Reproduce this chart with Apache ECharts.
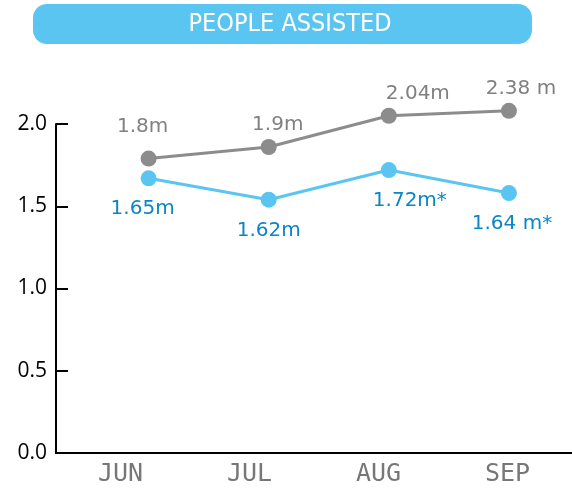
<!DOCTYPE html>
<html>
<head>
<meta charset="utf-8">
<script src="https://cdn.jsdelivr.net/npm/echarts@6/dist/echarts.min.js"></script>
<style>
  html, body { margin: 0; padding: 0; background: #fff; }
  #main { width: 572px; height: 491px; }
</style>
</head>
<body>
<div id="main"></div>
<script>
// months on the x axis
var months = ['JUN', 'JUL', 'AUG', 'SEP'];
// plotted values (millions)
var greyValues = [1.79, 1.86, 2.05, 2.08];
var blueValues = [1.67, 1.54, 1.72, 1.58];
// labels as printed on the chart
var greyLabels = ['1.8m', '1.9m', '2.04m', '2.38 m'];
var blueLabels = ['1.65m', '1.62m', '1.72m*', '1.64 m*'];
var yTicks = [0, 0.5, 1.0, 1.5, 2.0];

var FONT = 'DejaVu Sans';
var dom = document.getElementById('main');
var myChart = echarts.init(dom, null, { renderer: 'canvas' });

// label nudges so the text sits like the original
var greyShift = [[-6, -10], [9, 0], [29, 0], [12, 0]];
var blueShift = [[-6, 0], [0, 0], [21, 0], [3, 0]];

function toPoints(vals, shifts) {
    var out = [];
    for (var i = 0; i < vals.length; i++) {
        out.push({ value: [i, vals[i]], label: { offset: shifts[i] } });
    }
    return out;
}

var option = {
    animation: false,
    grid: { left: 56, right: 0, top: 124, bottom: 38 },
    graphic: [
        {
            type: 'rect',
            left: 33, top: 4,
            shape: { width: 499, height: 40, r: 14 },
            style: { fill: '#5bc5f2' }
        },
        {
            type: 'text',
            x: 290, y: 24,
            style: {
                text: 'PEOPLE ASSISTED',
                fill: '#ffffff',
                font: '25px "DejaVu Sans Condensed", "DejaVu Sans"',
                align: 'center',
                verticalAlign: 'middle'
            }
        }
    ],
    xAxis: [
        {
            type: 'category',
            data: months,
            boundaryGap: true,
            axisLine: { lineStyle: { color: '#000', width: 2 } },
            axisTick: { inside: true, length: 8, lineStyle: { color: '#000', width: 2 } },
            axisLabel: { color: '#777', fontFamily: 'DejaVu Sans Mono', fontSize: 25, margin: 9 },
            splitLine: { show: false }
        },
        {
            // helper scale for the line points
            type: 'value',
            min: -0.771,
            max: 3.525,
            show: false
        }
    ],
    yAxis: {
        type: 'value',
        min: yTicks[0],
        max: yTicks[yTicks.length - 1],
        interval: 0.5,
        axisLine: { show: true, onZero: false, lineStyle: { color: '#000', width: 2 } },
        axisTick: { show: true, inside: true, length: 12, lineStyle: { color: '#000', width: 2 } },
        axisLabel: {
            color: '#000', fontFamily: 'Open Sans', fontSize: 21, margin: 9,
            formatter: function (v) { return v.toFixed(1); }
        },
        splitLine: { show: false }
    },
    series: [
        {
            name: 'grey',
            type: 'line',
            xAxisIndex: 1,
            clip: false,
            data: toPoints(greyValues, greyShift),
            symbol: 'circle',
            symbolSize: 16,
            lineStyle: { color: '#8c8c8c', width: 3 },
            itemStyle: { color: '#8c8c8c' },
            label: {
                show: true,
                position: 'top',
                distance: 4,
                color: '#808080',
                fontFamily: FONT,
                fontSize: 20,
                formatter: function (p) { return greyLabels[p.dataIndex]; }
            }
        },
        {
            name: 'blue',
            type: 'line',
            xAxisIndex: 1,
            clip: false,
            data: toPoints(blueValues, blueShift),
            symbol: 'circle',
            symbolSize: 16,
            lineStyle: { color: '#5bc5f2', width: 3 },
            itemStyle: { color: '#5bc5f2' },
            label: {
                show: true,
                position: 'bottom',
                distance: 13,
                color: '#0a85c8',
                fontFamily: FONT,
                fontSize: 20,
                formatter: function (p) { return blueLabels[p.dataIndex]; }
            }
        }
    ]
};

myChart.setOption(option);
</script>
</body>
</html>
